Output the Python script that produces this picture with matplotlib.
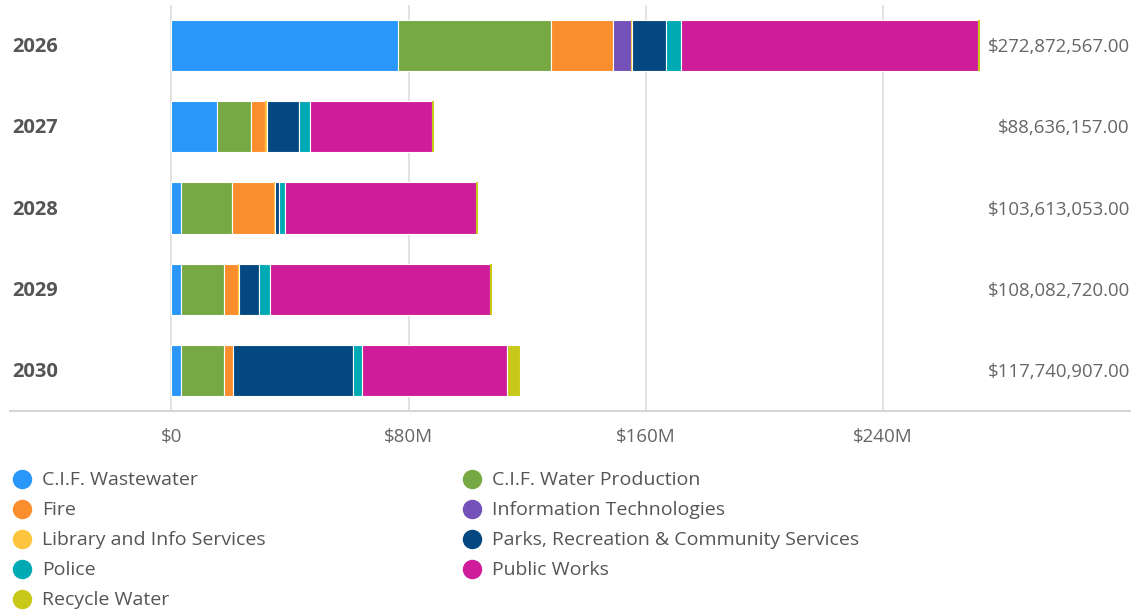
import numpy as np
import matplotlib.pyplot as plt
from matplotlib.ticker import FuncFormatter

plt.rcParams['font.family'] = ['Open Sans', 'DejaVu Sans']

W, H = 1134, 613

years = ['2026', '2027', '2028', '2029', '2030']
totals = ['$272,872,567.00', '$88,636,157.00', '$103,613,053.00',
          '$108,082,720.00', '$117,740,907.00']

# spending per department, $M per year
wastewater = [76.6, 15.4, 3.2, 3.2, 3.2]
water_production = [51.5, 11.5, 17.2, 14.5, 14.5]
fire = [20.9, 4.7, 14.2, 4.7, 3.0]
info_tech = [6.1, 0.0, 0.0, 0.0, 0.0]
library = [0.4, 0.7, 0.3, 0.5, 0.0]
parks = [11.5, 10.6, 1.3, 6.8, 40.6]
police = [5.1, 4.0, 2.0, 3.4, 3.0]
public_works = [100.2, 41.0, 64.7, 74.3, 49.0]
recycle_water = [0.6, 0.7, 0.7, 0.7, 4.4]

ticks = [0, 80, 160, 240]

series = [
    ('C.I.F. Wastewater', wastewater, '#2997f9'),
    ('C.I.F. Water Production', water_production, '#76a844'),
    ('Fire', fire, '#fb8e2c'),
    ('Information Technologies', info_tech, '#7451b8'),
    ('Library and Info Services', library, '#ffc43d'),
    ('Parks, Recreation & Community Services', parks, '#044882'),
    ('Police', police, '#00aab5'),
    ('Public Works', public_works, '#cf1c9a'),
    ('Recycle Water', recycle_water, '#c8c818'),
]

fig = plt.figure(figsize=(W / 100, H / 100), dpi=100)
ax = fig.add_axes([10 / W, 1 - 411 / H, 1120 / W, 406 / H])

y = np.arange(len(years))
left = np.zeros(len(years))
for name, vals, color in series:
    vals = np.array(vals)
    # thin slivers get no white outline so their colour still shows
    lw = [0.8 if v > 1 else 0 for v in vals]
    ax.barh(y, vals, left=left, height=0.63, color=color,
            edgecolor='white', linewidth=lw, zorder=3)
    left += vals

ax.set_xlim(-54.5, 323.5)
ax.set_ylim(4.5, -0.5)

for t in ticks:
    ax.axvline(t, color='#dddddd', linewidth=1.2, zorder=1)

for s in ['top', 'right', 'left']:
    ax.spines[s].set_visible(False)
ax.spines['bottom'].set_color('#d6d6d6')
ax.spines['bottom'].set_linewidth(1.5)

ax.set_yticks([])
ax.set_xticks(ticks)
ax.xaxis.set_major_formatter(FuncFormatter(lambda v, p: '$0' if v == 0 else f'${v:.0f}M'))
ax.tick_params(axis='x', length=0, pad=12, labelsize=13.5, labelcolor='#666666')

for i, (yr, tot) in enumerate(zip(years, totals)):
    ax.text(2 / 1120, i + 0.02, yr, transform=ax.get_yaxis_transform(),
            ha='left', va='center', fontsize=14.5, fontweight='bold', color='#555555')
    ax.text(1.0, i + 0.02, tot, transform=ax.get_yaxis_transform(),
            ha='right', va='center', fontsize=13.4, color='#666666')

# legend in two columns
for k, (name, vals, color) in enumerate(series):
    col, row = k % 2, k // 2
    cx = 22 + col * 450
    cy = 479 + row * 30
    fig.lines.append(plt.Line2D([cx / W], [1 - cy / H], marker='o', markersize=13,
                                color=color, transform=fig.transFigure, linestyle='none'))
    fig.text((cx + 20) / W, 1 - (cy + 1) / H, name, ha='left', va='center',
             fontsize=14, color='#555555')

fig.savefig('out.png', dpi=100)
